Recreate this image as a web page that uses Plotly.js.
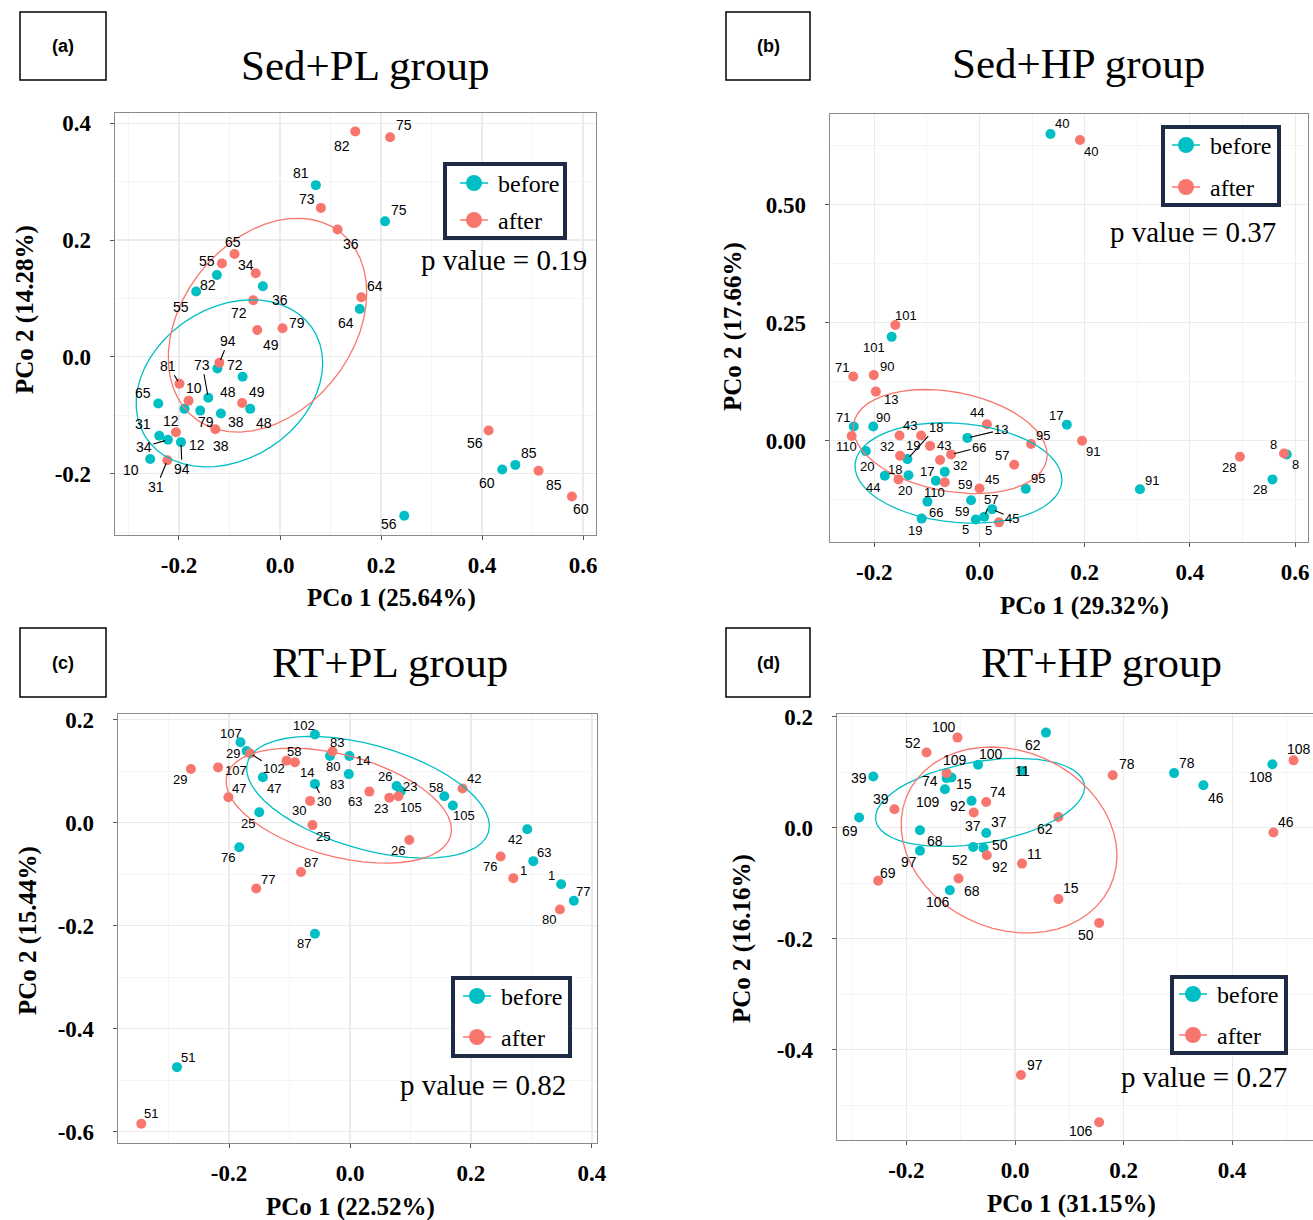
<!DOCTYPE html>
<html><head><meta charset="utf-8">
<script src="https://cdn.plot.ly/plotly-3.0.1.min.js"></script>
<style>html,body{margin:0;padding:0;background:#fff}#chart{width:1313px;height:1220px}</style>
</head><body><div id="chart"></div>
<script>
// ---------------- DATA ----------------
// Panel (a) Sed+PL group
const aBeforeIds = [81, 75, 82, 55, 36, 64, 72, 48, 73, 65, 49, 38, 79, 12, 31, 34, 94, 10, 56, 60, 85];
const aBeforeX = [0.071, 0.208, -0.125, -0.166, -0.034, 0.158, -0.124, -0.074, -0.142, -0.241, -0.059, -0.117, -0.158, -0.189, -0.239, -0.222, -0.196, -0.257, 0.246, 0.440, 0.466];
const aBeforeY = [0.294, 0.232, 0.140, 0.112, 0.121, 0.082, -0.020, -0.034, -0.070, -0.080, -0.089, -0.097, -0.092, -0.089, -0.135, -0.142, -0.146, -0.175, -0.272, -0.193, -0.185];
const aAfterIds = [82, 75, 73, 36, 65, 55, 34, 64, 72, 79, 49, 94, 81, 10, 48, 38, 12, 31, 56, 85, 60];
const aAfterX = [0.149, 0.218, 0.081, 0.114, -0.090, -0.115, -0.048, 0.161, -0.053, 0.005, -0.045, -0.120, -0.199, -0.181, -0.075, -0.128, -0.206, -0.223, 0.413, 0.512, 0.578];
const aAfterY = [0.386, 0.376, 0.255, 0.218, 0.176, 0.160, 0.143, 0.102, 0.097, 0.049, 0.046, -0.010, -0.046, -0.075, -0.079, -0.124, -0.129, -0.177, -0.126, -0.195, -0.239];

// Panel (b) Sed+HP group
const bBeforeIds = [101, 71, 90, 20, 13, 18, 44, 43, 110, 32, 95, 66, 59, 19, 5, 57, 45, 17, 40, 91, 28, 8];
const bBeforeX = [-0.167, -0.239, -0.202, -0.216, -0.023, -0.137, -0.180, -0.135, -0.083, -0.066, 0.088, -0.099, -0.016, -0.110, -0.007, 0.009, 0.024, 0.166, 0.135, 0.305, 0.557, 0.584];
const bBeforeY = [0.220, 0.030, 0.030, -0.022, 0.006, -0.039, -0.074, -0.073, -0.085, -0.066, -0.102, -0.129, -0.126, -0.165, -0.167, -0.161, -0.145, 0.034, 0.650, -0.103, -0.082, -0.029];
const bAfterIds = [101, 71, 90, 13, 110, 43, 19, 44, 20, 32, 66, 17, 57, 95, 91, 18, 59, 45, 5, 40, 28, 8];
const bAfterX = [-0.160, -0.240, -0.201, -0.197, -0.243, -0.152, -0.111, 0.014, -0.094, -0.151, -0.054, -0.075, 0.066, 0.098, 0.195, -0.154, -0.066, 0.000, 0.037, 0.191, 0.495, 0.579];
const bAfterY = [0.245, 0.136, 0.139, 0.104, 0.010, 0.011, 0.011, 0.035, -0.011, -0.032, -0.029, -0.041, -0.051, -0.007, 0.000, -0.082, -0.088, -0.101, -0.173, 0.637, -0.034, -0.027];

// Panel (c) RT+PL group
const cBeforeIds = [107, 29, 47, 25, 76, 102, 14, 30, 80, 83, 26, 23, 58, 105, 42, 63, 1, 77, 51, 87];
const cBeforeX = [-0.181, -0.171, -0.144, -0.150, -0.183, -0.058, -0.001, -0.058, -0.033, -0.002, 0.077, 0.084, 0.156, 0.170, 0.293, 0.303, 0.349, 0.370, -0.286, -0.058];
const cBeforeY = [0.156, 0.139, 0.088, 0.020, -0.048, 0.171, 0.129, 0.075, 0.129, 0.094, 0.071, 0.061, 0.051, 0.033, -0.013, -0.075, -0.120, -0.152, -0.475, -0.216];
const cAfterIds = [29, 107, 102, 47, 58, 14, 30, 25, 87, 77, 83, 63, 23, 105, 42, 26, 76, 1, 80, 51];
const cAfterX = [-0.263, -0.218, -0.165, -0.201, -0.105, -0.091, -0.066, -0.062, -0.081, -0.155, -0.029, 0.032, 0.065, 0.080, 0.186, 0.098, 0.249, 0.270, 0.347, -0.345];
const cAfterY = [0.104, 0.107, 0.134, 0.049, 0.120, 0.117, 0.042, -0.005, -0.096, -0.128, 0.138, 0.060, 0.048, 0.051, 0.066, -0.034, -0.066, -0.108, -0.169, -0.585];

// Panel (d) RT+HP group
const dBeforeIds = [62, 100, 11, 39, 74, 15, 109, 92, 69, 68, 37, 97, 52, 50, 106, 78, 46, 108];
const dBeforeX = [0.057, -0.068, 0.013, -0.261, -0.126, -0.117, -0.129, -0.080, -0.287, -0.175, -0.053, -0.175, -0.077, -0.058, -0.120, 0.293, 0.347, 0.474];
const dBeforeY = [0.171, 0.113, 0.102, 0.092, 0.089, 0.090, 0.069, 0.048, 0.018, -0.005, -0.010, -0.042, -0.035, -0.037, -0.113, 0.098, 0.076, 0.114];
const dAfterIds = [100, 52, 109, 74, 37, 39, 62, 92, 11, 68, 69, 15, 50, 97, 106, 78, 108, 46];
const dAfterX = [-0.106, -0.163, -0.126, -0.053, -0.076, -0.222, 0.080, -0.052, 0.013, -0.104, -0.252, 0.080, 0.155, 0.011, 0.155, 0.180, 0.513, 0.476];
const dAfterY = [0.162, 0.135, 0.098, 0.046, 0.027, 0.033, 0.019, -0.050, -0.065, -0.092, -0.096, -0.129, -0.172, -0.446, -0.531, 0.094, 0.121, -0.009];

// Titles, axis titles, p values
const panelTags = ['(a)', '(b)', '(c)', '(d)'];
const panelTitles = ['Sed+PL group', 'Sed+HP group', 'RT+PL group', 'RT+HP group'];
const xTitles = ['PCo 1 (25.64%)', 'PCo 1 (29.32%)', 'PCo 1 (22.52%)', 'PCo 1 (31.15%)'];
const yTitles = ['PCo 2 (14.28%)', 'PCo 2 (17.66%)', 'PCo 2 (15.44%)', 'PCo 2 (16.16%)'];
const pValues = ['p value = 0.19', 'p value = 0.37', 'p value = 0.82', 'p value = 0.27'];
const groupNames = ['before', 'after'];
const ellipseLevel = 0.5;

// Tick values / labels
const aXTicks = [-0.2, 0, 0.2, 0.4, 0.6], aXText = ['-0.2', '0.0', '0.2', '0.4', '0.6'];
const aYTicks = [-0.2, 0, 0.2, 0.4], aYText = ['-0.2', '0.0', '0.2', '0.4'];
const bXTicks = [-0.2, 0, 0.2, 0.4, 0.6], bXText = ['-0.2', '0.0', '0.2', '0.4', '0.6'];
const bYTicks = [0, 0.25, 0.5], bYText = ['0.00', '0.25', '0.50'];
const cXTicks = [-0.2, 0, 0.2, 0.4], cXText = ['-0.2', '0.0', '0.2', '0.4'];
const cYTicks = [-0.6, -0.4, -0.2, 0, 0.2], cYText = ['-0.6', '-0.4', '-0.2', '0.0', '0.2'];
const dXTicks = [-0.2, 0, 0.2, 0.4], dXText = ['-0.2', '0.0', '0.2', '0.4'];
const dYTicks = [-0.4, -0.2, 0, 0.2], dYText = ['-0.4', '-0.2', '0.0', '0.2'];

// ---------------- LABEL PLACEMENT (pixel offsets of id text from its point) ----------------
const aBeforeDx = [-15, 14, -9, -15, 17, -14, 18, -15, -6, -15, 7, 15, 6, 12, -16, -24, 1, -19, -15, -15, 14];
const aBeforeDy = [-12, -11, 10, 16, 14, 14, -4, 15, -33, -11, -17, 8, 11, 36, -12, 7, 27, 11, 8, 13, -12];
const aBeforeLead = [73, 34, 94];
const aAfterDx = [-13, 14, -14, 13, -2, -15, -10, 14, -14, 14, 14, 9, -11, 5, 22, 6, -5, -11, -14, 15, 9];
const aAfterDy = [15, -12, -9, 14, -12, -2, -8, -11, 13, -5, 15, -22, -18, -13, 20, 17, -11, 27, 13, 14, 13];
const aAfterLead = [94, 81, 31];

const bBeforeDx = [-18, -11, 10, 1, 34, 29, -12, 36, -1, 15, 12, 9, -9, -7, -10, 7, 20, -11, 11, 12, -12, 9];
const bBeforeDy = [11, -9, -9, 15, -8, -32, 12, -30, 12, -6, -10, 11, 11, 12, 10, -17, 9, -9, -10, -9, 10, 10];
const bBeforeLead = [13, 18, 57, 45];
const bAfterDx = [11, -11, 13, 15, -5, 10, -8, -10, -25, -13, 28, -13, -12, 12, 11, -3, 20, 12, -10, 11, -11, -11];
const bAfterDy = [-10, -9, -9, 8, 11, -10, 10, -12, 45, -9, -7, 11, -9, -9, 11, -10, 2, -9, 8, 11, 11, -9];
const bAfterLead = [66];

const cBeforeDx = [-10, -14, 11, -11, -11, -11, 14, 9, 3, -12, -12, 9, -8, 11, -12, 11, -10, 9, 11, -11];
const cBeforeDy = [-9, 3, 11, 11, 10, -9, 4, 18, 10, 10, -9, -5, -9, 10, 10, -9, -9, -9, -10, 10];
const cBeforeLead = [30];
const cAfterDx = [-11, 18, 24, 11, 8, 12, -11, 11, 10, 12, 5, -14, -8, 13, 11, -11, -11, 10, -11, 10];
const cAfterDy = [11, 3, 15, -9, -9, 10, 10, 11, -9, -9, -9, 10, 11, 11, -10, 10, 10, -8, 10, -10];
const cAfterLead = [102];

const dBeforeDx = [-13, 13, 0, -14, -17, 13, -17, -14, -9, 15, 13, -11, -13, 17, -12, 13, 13, -11];
const dBeforeDy = [12, -11, 0, 2, 3, 6, 13, 5, 13, 11, -11, 11, 13, -3, 12, -10, 13, 13];
const dBeforeLead = [];
const dAfterDx = [-13, -13, 8, 12, -1, -13, -13, 13, 12, 13, 10, 13, -13, 14, -18, 14, 5, 13];
const dAfterDy = [-11, -10, -13, -10, 13, -10, 12, 12, -10, 12, -8, -11, 12, -10, 9, -11, -11, -11];
const dAfterLead = [];

// ---------------- LAYOUT GEOMETRY ----------------
const W = 1313, H = 1220;
const PX = v => v / W, PY = v => 1 - v / H;
const SERIF = '"Liberation Serif", "Times New Roman", serif';
const SANS = '"Liberation Sans", Arial, sans-serif';
const TEAL = '#00BFC4', RED = '#F8766D', NAVY = '#1d2b44';

const panels = [
  { s: '', box: [115, 113, 596, 535], xr: [-0.3267, 0.6257], yr: [-0.305, 0.4175],
    xt: [aXTicks, aXText], yt: [aYTicks, aYText], minorX: 0.1, minorY: 0.1, lab: 14,
    tag: [20, 12, 106, 80], title: [365, 66], xtit: [392, 598], ytit: [25, 310], pv: [504, 260],
    leg: [445, 164, 565, 238], legDotX: 474, legY: [183, 220], legTextX: 496,
    B: [aBeforeIds, aBeforeX, aBeforeY, aBeforeDx, aBeforeDy, aBeforeLead],
    A: [aAfterIds, aAfterX, aAfterY, aAfterDx, aAfterDy, aAfterLead] },
  { s: '2', box: [830, 114, 1308, 542], xr: [-0.2842, 0.6245], yr: [-0.2146, 0.6922],
    xt: [bXTicks, bXText], yt: [bYTicks, bYText], minorX: 0.1, minorY: 0.125, lab: 13,
    tag: [726, 12, 810, 80], title: [1078, 63], xtit: [1084, 606], ytit: [733, 327], pv: [1193, 232],
    leg: [1163, 127, 1279, 205], legDotX: 1186, legY: [145, 187], legTextX: 1208,
    B: [bBeforeIds, bBeforeX, bBeforeY, bBeforeDx, bBeforeDy, bBeforeLead],
    A: [bAfterIds, bAfterX, bAfterY, bAfterDx, bAfterDy, bAfterLead] },
  { s: '3', box: [118, 714, 597, 1143], xr: [-0.3835, 0.4083], yr: [-0.6223, 0.2107],
    xt: [cXTicks, cXText], yt: [cYTicks, cYText], minorX: 0.1, minorY: 0.1, lab: 13,
    tag: [20, 628, 106, 697], title: [390, 662], xtit: [350, 1207], ytit: [28, 931], pv: [483, 1085],
    leg: [453, 978, 570, 1056], legDotX: 477, legY: [996, 1037], legTextX: 499,
    B: [cBeforeIds, cBeforeX, cBeforeY, cBeforeDx, cBeforeDy, cBeforeLead],
    A: [cAfterIds, cAfterX, cAfterY, cAfterDx, cAfterDy, cAfterLead] },
  { s: '4', box: [837, 714, 1313, 1140], xr: [-0.3278, 0.5488], yr: [-0.563, 0.2045],
    xt: [dXTicks, dXText], yt: [dYTicks, dYText], minorX: 0.1, minorY: 0.1, lab: 14,
    tag: [726, 628, 810, 697], title: [1101, 662], xtit: [1071, 1204], ytit: [742, 939], pv: [1204, 1077],
    leg: [1172, 977, 1286, 1053], legDotX: 1193, legY: [994, 1035], legTextX: 1215,
    B: [dBeforeIds, dBeforeX, dBeforeY, dBeforeDx, dBeforeDy, dBeforeLead],
    A: [dAfterIds, dAfterX, dAfterY, dAfterDx, dAfterDy, dAfterLead] }
];

// ---------------- ELLIPSE (ggplot2 stat_ellipse, type "t") ----------------
function sum(a) { return a.reduce((s, v) => s + v, 0); }
function covTrob(xs, ys) {
  const n = xs.length, nu = 5, p = 2;
  let lx = sum(xs) / n, ly = sum(ys) / n;
  let w = new Array(n).fill(1), dx = [], dy = [];
  for (let it = 0; it < 25; it++) {
    const w0 = w.slice();
    dx = xs.map(v => v - lx); dy = ys.map(v => v - ly);
    const sw = sum(w);
    let sxx = 0, sxy = 0, syy = 0;
    for (let i = 0; i < n; i++) { sxx += w[i] * dx[i] * dx[i]; sxy += w[i] * dx[i] * dy[i]; syy += w[i] * dy[i] * dy[i]; }
    sxx /= sw; sxy /= sw; syy /= sw;
    const det = sxx * syy - sxy * sxy;
    w = dx.map((_, i) => (nu + p) / (nu + (syy * dx[i] * dx[i] - 2 * sxy * dx[i] * dy[i] + sxx * dy[i] * dy[i]) / det));
    const sw2 = sum(w);
    lx = sum(xs.map((v, i) => v * w[i])) / sw2; ly = sum(ys.map((v, i) => v * w[i])) / sw2;
    let mx = 0; for (let i = 0; i < n; i++) mx = Math.max(mx, Math.abs(w[i] - w0[i]));
    if (mx < 0.01) break;
  }
  let cxx = 0, cxy = 0, cyy = 0;
  for (let i = 0; i < n; i++) { cxx += w[i] * dx[i] * dx[i]; cxy += w[i] * dx[i] * dy[i]; cyy += w[i] * dy[i] * dy[i]; }
  return { cx: lx, cy: ly, cxx: cxx / n, cxy: cxy / n, cyy: cyy / n };
}
function ellipse(xs, ys) {
  const c = covTrob(xs, ys), d = xs.length - 1;
  const fq = (d / 2) * (Math.pow(1 - ellipseLevel, -2 / d) - 1);
  const r = Math.sqrt(2 * fq);
  const a = Math.sqrt(c.cxx), b = c.cxy / a, cc = Math.sqrt(c.cyy - b * b);
  const ex = [], ey = [];
  for (let k = 0; k <= 51; k++) {
    const t = k * 2 * Math.PI / 51;
    ex.push(c.cx + r * Math.cos(t) * a);
    ey.push(c.cy + r * (Math.cos(t) * b + Math.sin(t) * cc));
  }
  return [ex, ey];
}

// ---------------- BUILD ----------------
const traces = [], annotations = [], shapes = [];
const layout = { width: W, height: H, margin: { l: 0, r: 0, t: 0, b: 0 }, paper_bgcolor: '#fff',
  plot_bgcolor: '#fff', showlegend: false, annotations, shapes };

function minorVals(ticks, step, range) {
  const out = [];
  for (let v = ticks[0] - step; v <= range[1] + 1e-9; v += 2 * step) if (v >= range[0]) out.push(+v.toFixed(4));
  return out;
}
function axis(dom, range, tk, mstep, anchor, isY) {
  return { domain: dom, range, anchor, tickmode: 'array', tickvals: tk[0], ticktext: tk[1],
    showgrid: true, gridcolor: '#ebebeb', gridwidth: 1.1, zeroline: false,
    showline: true, mirror: true, linecolor: '#8a8a8a', linewidth: 1.3,
    ticks: 'outside', ticklen: 4, tickcolor: '#555', tickwidth: 1,
    ticklabelstandoff: isY ? 14 : 5,
    tickfont: { family: SERIF, size: 23, color: '#000', weight: 700 },
    minor: { tickmode: 'array', tickvals: minorVals(tk[0], mstep, range), showgrid: true,
      gridcolor: '#f2f2f2', gridwidth: 0.8, ticks: '' } };
}

function addLabels(P, series, xa, ya) {
  const [ids, xs, ys, dxs, dys, lead] = series;
  ids.forEach((id, i) => {
    const base = { x: xs[i], y: ys[i], xref: xa, yref: ya, text: String(id),
      font: { family: SANS, size: P.lab, color: '#000' } };
    if (lead.includes(id)) {
      annotations.push(Object.assign(base, { showarrow: true, ax: dxs[i], ay: dys[i], arrowhead: 0,
        arrowwidth: 1.1, arrowcolor: '#000', standoff: 3 }));
    } else {
      annotations.push(Object.assign(base, { showarrow: false, xshift: dxs[i], yshift: -dys[i] }));
    }
  });
}

panels.forEach((P, k) => {
  const xa = 'x' + P.s, ya = 'y' + P.s;
  const [l, t, r, b] = P.box;
  layout['xaxis' + P.s] = axis([PX(l), Math.min(1, PX(r))], P.xr, P.xt, P.minorX, ya, false);
  layout['yaxis' + P.s] = axis([PY(b), PY(t)], P.yr, P.yt, P.minorY, xa, true);

  const groups = [[P.B, TEAL, groupNames[0]], [P.A, RED, groupNames[1]]];
  groups.forEach(([S, col, nm]) => {
    traces.push({ type: 'scatter', mode: 'markers', x: S[1], y: S[2], xaxis: xa, yaxis: ya, name: nm,
      text: S[0].map(String), marker: { color: col, size: 10, line: { width: 0 } }, hoverinfo: 'text' });
  });
  groups.forEach(([S, col]) => {
    const [ex, ey] = ellipse(S[1], S[2]);
    traces.push({ type: 'scatter', mode: 'lines', x: ex, y: ey, xaxis: xa, yaxis: ya,
      line: { color: col, width: 1.3 }, hoverinfo: 'skip' });
  });
  addLabels(P, P.B, xa, ya);
  addLabels(P, P.A, xa, ya);

  // panel tag box
  shapes.push({ type: 'rect', xref: 'paper', yref: 'paper', x0: PX(P.tag[0]), x1: PX(P.tag[2]),
    y0: PY(P.tag[3]), y1: PY(P.tag[1]), line: { color: '#000', width: 1.5 } });
  annotations.push({ xref: 'paper', yref: 'paper', x: PX((P.tag[0] + P.tag[2]) / 2), y: PY((P.tag[1] + P.tag[3]) / 2),
    text: panelTags[k], showarrow: false, xanchor: 'center', yanchor: 'middle',
    font: { family: SANS, size: 18, color: '#000', weight: 700 } });
  // title
  annotations.push({ xref: 'paper', yref: 'paper', x: PX(P.title[0]), y: PY(P.title[1]), text: panelTitles[k],
    showarrow: false, xanchor: 'center', yanchor: 'middle', font: { family: SERIF, size: 43, color: '#000' } });
  // axis titles
  annotations.push({ xref: 'paper', yref: 'paper', x: PX(P.xtit[0]), y: PY(P.xtit[1]), text: xTitles[k],
    showarrow: false, xanchor: 'center', yanchor: 'middle', font: { family: SERIF, size: 25, color: '#000', weight: 700 } });
  annotations.push({ xref: 'paper', yref: 'paper', x: PX(P.ytit[0]), y: PY(P.ytit[1]), text: yTitles[k],
    showarrow: false, xanchor: 'center', yanchor: 'middle', textangle: -90,
    font: { family: SERIF, size: 25, color: '#000', weight: 700 } });
  // p value
  annotations.push({ xref: 'paper', yref: 'paper', x: PX(P.pv[0]), y: PY(P.pv[1]), text: pValues[k],
    showarrow: false, xanchor: 'center', yanchor: 'middle', font: { family: SERIF, size: 29, color: '#000' } });
  // legend
  shapes.push({ type: 'rect', xref: 'paper', yref: 'paper', x0: PX(P.leg[0]), x1: PX(P.leg[2]),
    y0: PY(P.leg[3]), y1: PY(P.leg[1]), line: { color: NAVY, width: 4 }, fillcolor: '#fff' });
  [[TEAL, groupNames[0]], [RED, groupNames[1]]].forEach(([col, nm], j) => {
    const yy = P.legY[j], cx = P.legDotX;
    shapes.push({ type: 'line', xref: 'paper', yref: 'paper', x0: PX(cx - 14), x1: PX(cx + 14),
      y0: PY(yy), y1: PY(yy), line: { color: col, width: 1.5 } });
    shapes.push({ type: 'circle', xref: 'paper', yref: 'paper', x0: PX(cx - 8), x1: PX(cx + 8),
      y0: PY(yy + 8), y1: PY(yy - 8), line: { width: 0 }, fillcolor: col });
    annotations.push({ xref: 'paper', yref: 'paper', x: PX(P.legTextX), y: PY(yy + 1), text: nm,
      showarrow: false, xanchor: 'left', yanchor: 'middle', font: { family: SERIF, size: 24, color: '#000' } });
  });
});

Plotly.newPlot('chart', traces, layout, { staticPlot: true, displayModeBar: false });
</script></body></html>
